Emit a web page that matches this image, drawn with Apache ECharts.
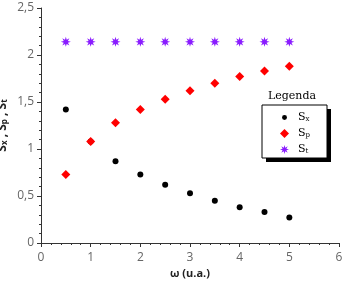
<!DOCTYPE html>
<html>
<head>
<meta charset="utf-8">
<script src="https://cdn.jsdelivr.net/npm/echarts@6/dist/echarts.min.js"></script>
<style>
  html, body { margin: 0; padding: 0; background: #fff; }
  #chart { width: 347px; height: 284px; }
</style>
</head>
<body>
<div id="chart"></div>
<script>
// values
var omega = [0.5, 1, 1.5, 2, 2.5, 3, 3.5, 4, 4.5, 5];
var sx = [1.42, 1.08, 0.87, 0.73, 0.62, 0.53, 0.45, 0.38, 0.33, 0.27];
var sp = [0.73, 1.08, 1.28, 1.42, 1.53, 1.62, 1.70, 1.77, 1.83, 1.88];
var st = [2.14, 2.14, 2.14, 2.14, 2.14, 2.14, 2.14, 2.14, 2.14, 2.14];

function pairs(xs, ys) {
    var out = [];
    for (var i = 0; i < xs.length; i++) out.push([xs[i], ys[i]]);
    return out;
}

// 8 point star for the St marks
function starPath() {
    var p = '';
    for (var i = 0; i < 16; i++) {
        var r = (i % 2 == 0) ? 10 : 4.5;
        var a = Math.PI * i / 8;
        p += (i == 0 ? 'M' : 'L') + (10 + r * Math.sin(a)).toFixed(2) + ' ' + (10 - r * Math.cos(a)).toFixed(2);
    }
    return 'path://' + p + 'Z';
}
// small dot inside a 20x20 box, so the legend icon stays small
var smallDot = 'path://M0 0M20 20M10 4.5A5.5 5.5 0 1 1 10 15.5A5.5 5.5 0 1 1 10 4.5Z';

var chart = echarts.init(document.getElementById('chart'));
var tickFont = { color: '#666', fontSize: 12, fontFamily: 'Open Sans' };
var comma = function (v) { return String(v).replace('.', ','); };

var option = {
    backgroundColor: '#fff',
    animation: false,
    grid: { left: 41, right: 8, top: 8, bottom: 41, outerBoundsMode: 'none' },
    title: {
        text: 'Legenda',
        left: 268, top: 91,
        padding: 0,
        textStyle: { fontFamily: 'DejaVu Serif', fontSize: 11, fontWeight: 'normal', color: '#000' }
    },
    graphic: [
        { type: 'rect', z: 5, shape: { x: 266, y: 109, width: 65, height: 53 }, style: { fill: '#000' } },
        { type: 'rect', z: 5, shape: { x: 262, y: 105, width: 65, height: 53 }, style: { fill: '#fff', stroke: '#000', lineWidth: 1 } }
    ],
    legend: {
        z: 10,
        orient: 'vertical',
        left: 280, top: 112,
        padding: 0,
        itemGap: 5,
        itemWidth: 9, itemHeight: 9,
        data: [
            { name: 'Sx', icon: smallDot },
            { name: 'Sp' },
            { name: 'St' }
        ],
        formatter: function (n) { return 'S{s|' + n.slice(1) + '}'; },
        textStyle: {
            fontFamily: 'DejaVu Serif', fontSize: 11, color: '#000', padding: [0, 0, 0, 4],
            rich: { s: { fontFamily: 'DejaVu Serif', fontSize: 7, color: '#000', verticalAlign: 'bottom', padding: [4, 0, 0, 0] } }
        }
    },
    xAxis: {
        type: 'value',
        min: 0, max: 6, interval: 1,
        name: 'ω (u.a.)',
        nameLocation: 'middle',
        nameGap: 25,
        nameMoveOverlap: false,
        nameTextStyle: { fontFamily: 'Open Sans', fontWeight: 'bold', fontSize: 11, color: '#222' },
        axisLine: { show: true, lineStyle: { color: '#333' } },
        axisTick: { show: true, length: 4, lineStyle: { color: '#333' } },
        minorTick: { show: true, splitNumber: 5, length: 2, lineStyle: { color: '#333' } },
        splitLine: { show: false },
        axisLabel: Object.assign({ margin: 9 }, tickFont)
    },
    yAxis: {
        type: 'value',
        min: 0, max: 2.5, interval: 0.5,
        name: 'S{s|x} , S{s|p} , S{s|t}',
        nameLocation: 'middle',
        nameRotate: 90,
        nameGap: 32,
        nameMoveOverlap: false,
        nameTextStyle: {
            fontFamily: 'Open Sans', fontWeight: 'bold', fontSize: 12, color: '#222',
            rich: { s: { fontFamily: 'Open Sans', fontWeight: 'bold', fontSize: 8, color: '#222', verticalAlign: 'bottom', padding: [4, 0, 0, 0] } }
        },
        axisLine: { show: true, lineStyle: { color: '#333' } },
        axisTick: { show: true, length: 4, lineStyle: { color: '#333' } },
        minorTick: { show: true, splitNumber: 5, length: 2, lineStyle: { color: '#333' } },
        splitLine: { show: false },
        axisLabel: Object.assign({ formatter: comma, margin: 7 }, tickFont)
    },
    series: [
        {
            name: 'Sx', type: 'scatter', symbol: 'circle', symbolSize: 6,
            itemStyle: { color: '#000', opacity: 1 },
            data: pairs(omega, sx)
        },
        {
            name: 'Sp', type: 'scatter', symbol: 'diamond', symbolSize: 9,
            itemStyle: { color: '#ff0000', opacity: 1 },
            data: pairs(omega, sp)
        },
        {
            name: 'St', type: 'scatter', symbol: starPath(), symbolSize: 10,
            itemStyle: { color: '#8a1cff', opacity: 1 },
            data: pairs(omega, st)
        }
    ]
};

chart.setOption(option);
</script>
</body>
</html>
